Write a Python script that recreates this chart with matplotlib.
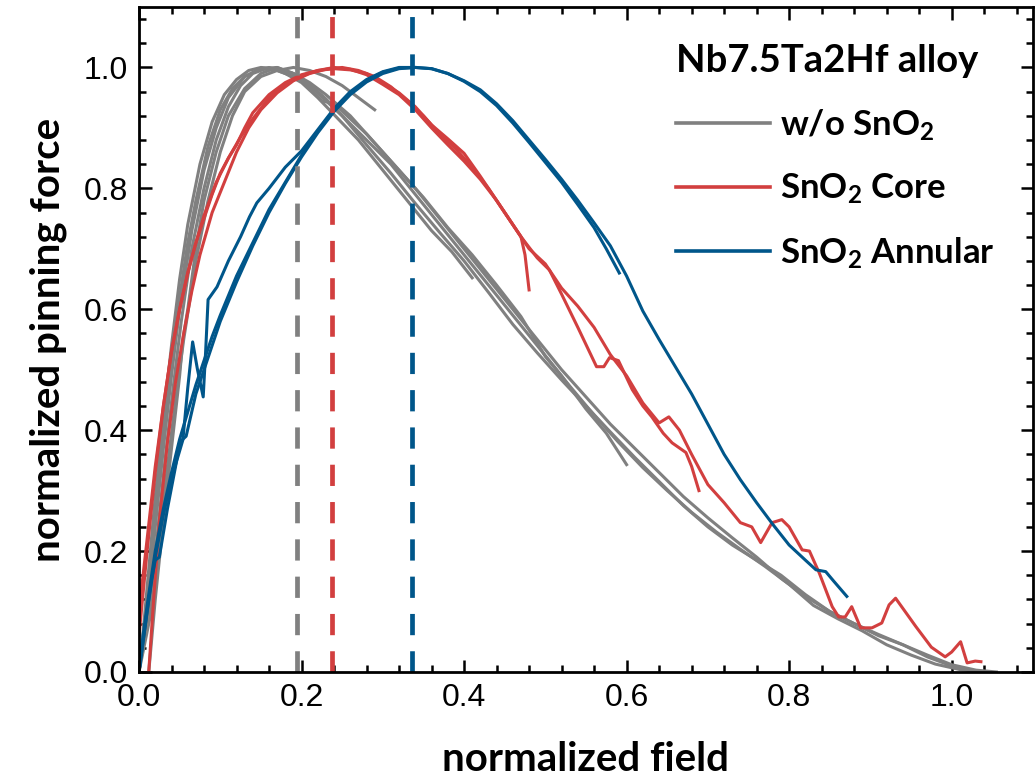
"""
Normalized pinning force vs normalized field for Nb7.5Ta2Hf alloy wires
(w/o SnO2, SnO2 core, SnO2 annular). Saves out.png.
"""

import matplotlib
matplotlib.use("Agg")
import matplotlib.pyplot as plt
from matplotlib.lines import Line2D
from matplotlib.ticker import MultipleLocator

# ── Colours ───────────────────────────────────────────────────────────────────
GRAY = "#808080"
RED = "#D23F3F"
BLUE = "#00568A"

# ── Data ──────────────────────────────────────────────────────────────────────
# w/o SnO2
g1_x = [0.0, 0.006, 0.012, 0.02, 0.03, 0.04, 0.05, 0.06, 0.075, 0.09, 0.105, 0.12, 0.135, 0.15,
        0.17, 0.19, 0.21, 0.23, 0.26, 0.29, 0.32, 0.35, 0.38, 0.41, 0.44, 0.47, 0.50, 0.53, 0.56,
        0.59, 0.62, 0.65, 0.68, 0.71, 0.74, 0.77, 0.80, 0.83, 0.86, 0.89, 0.92, 0.95, 0.98, 1.01, 1.04]
g1_y = [0.0, 0.08, 0.17, 0.29, 0.42, 0.54, 0.65, 0.74, 0.84, 0.91, 0.955, 0.98, 0.995, 1.0,
        0.998, 0.99, 0.975, 0.955, 0.92, 0.875, 0.83, 0.785, 0.735, 0.69, 0.64, 0.588, 0.522, 0.473, 0.425,
        0.38, 0.338, 0.30, 0.264, 0.232, 0.203, 0.175, 0.145, 0.11, 0.088, 0.068, 0.045, 0.028, 0.013, 0.004, 0.0]

g2_x = [0.0, 0.01, 0.02, 0.03, 0.04, 0.05, 0.065, 0.08, 0.095, 0.11, 0.13, 0.15, 0.17, 0.19, 0.21,
        0.23, 0.25, 0.28, 0.31, 0.34, 0.37, 0.40, 0.43, 0.46, 0.49, 0.52, 0.55, 0.58, 0.61, 0.64,
        0.67, 0.70, 0.73, 0.76, 0.79, 0.82, 0.85, 0.88, 0.91, 0.94, 0.97, 1.0, 1.03, 1.055]
g2_y = [0.0, 0.1, 0.24, 0.37, 0.49, 0.6, 0.73, 0.83, 0.9, 0.95, 0.985, 0.998, 1.0, 0.99, 0.972,
        0.948, 0.92, 0.872, 0.825, 0.775, 0.727, 0.68, 0.628, 0.575, 0.528, 0.483, 0.44, 0.397, 0.355, 0.315,
        0.275, 0.24, 0.21, 0.185, 0.16, 0.128, 0.1, 0.08, 0.06, 0.045, 0.028, 0.012, 0.003, 0.0]

g3_x = [0.012, 0.02, 0.03, 0.04, 0.045, 0.05, 0.054, 0.06, 0.07, 0.08, 0.095, 0.11, 0.13, 0.15,
        0.17, 0.19, 0.21, 0.225, 0.24, 0.26, 0.28, 0.31, 0.34, 0.37, 0.40, 0.43, 0.46, 0.49, 0.52,
        0.55, 0.58, 0.61, 0.64, 0.67, 0.70, 0.73, 0.76, 0.79, 0.82, 0.85, 0.88, 0.91, 0.94, 0.97, 1.0, 1.02]
g3_y = [0.0, 0.12, 0.25, 0.37, 0.43, 0.49, 0.55, 0.6, 0.7, 0.78, 0.86, 0.92, 0.965, 0.99,
        1.0, 0.99, 0.965, 0.945, 0.94, 0.915, 0.89, 0.845, 0.8, 0.75, 0.7, 0.65, 0.6, 0.55, 0.5,
        0.455, 0.41, 0.37, 0.33, 0.29, 0.255, 0.222, 0.19, 0.155, 0.125, 0.1, 0.08, 0.062, 0.045, 0.025, 0.01, 0.003]

g4_x = [0.0, 0.01, 0.02, 0.03, 0.04, 0.05, 0.06, 0.07, 0.085, 0.10, 0.115, 0.13, 0.15, 0.17, 0.19,
        0.21, 0.23, 0.25, 0.28, 0.31, 0.34, 0.37, 0.40, 0.43, 0.46, 0.49, 0.52, 0.55, 0.575, 0.60]
g4_y = [0.0, 0.12, 0.26, 0.4, 0.52, 0.62, 0.71, 0.78, 0.87, 0.93, 0.965, 0.985, 0.998, 0.995, 0.985,
        0.97, 0.945, 0.92, 0.88, 0.84, 0.79, 0.74, 0.69, 0.64, 0.59, 0.54, 0.49, 0.435, 0.395, 0.343]

g5_x = [0.0, 0.012, 0.022, 0.032, 0.042, 0.052, 0.065, 0.08, 0.095, 0.11, 0.125, 0.14, 0.16, 0.18,
        0.2, 0.22, 0.245, 0.27, 0.30, 0.33, 0.36, 0.385, 0.41]
g5_y = [0.0, 0.1, 0.22, 0.35, 0.47, 0.58, 0.7, 0.8, 0.88, 0.935, 0.97, 0.99, 1.0, 0.99,
        0.975, 0.95, 0.915, 0.88, 0.83, 0.78, 0.73, 0.695, 0.652]

g6_x = [0.0, 0.015, 0.025, 0.035, 0.045, 0.055, 0.07, 0.085, 0.1, 0.115, 0.13, 0.15, 0.17, 0.19,
        0.21, 0.23, 0.25, 0.27, 0.29]
g6_y = [0.0, 0.1, 0.22, 0.34, 0.45, 0.55, 0.68, 0.78, 0.86, 0.92, 0.96, 0.985, 0.995, 1.0,
        0.995, 0.985, 0.97, 0.95, 0.93]

# SnO2 Core
r1_x = [0.0, 0.005, 0.01, 0.02, 0.03, 0.04, 0.05, 0.06, 0.07, 0.08, 0.09, 0.1, 0.11, 0.12, 0.13,
        0.14, 0.16, 0.18, 0.2, 0.22, 0.24, 0.26, 0.28, 0.30, 0.32, 0.34, 0.36, 0.38, 0.40, 0.42,
        0.44, 0.46, 0.48, 0.50, 0.52, 0.54, 0.56, 0.58, 0.60, 0.62, 0.64, 0.652, 0.665, 0.68, 0.70,
        0.72, 0.74, 0.754, 0.765, 0.779, 0.791, 0.80, 0.816, 0.825, 0.837, 0.853, 0.861, 0.869,
        0.877, 0.888, 0.902, 0.914, 0.923, 0.931, 0.956, 0.975, 0.992, 1.0, 1.011, 1.019, 1.029, 1.036]
r1_y = [0.06, 0.13, 0.2, 0.33, 0.44, 0.53, 0.6, 0.66, 0.71, 0.75, 0.79, 0.825, 0.85, 0.872, 0.9,
        0.925, 0.955, 0.975, 0.988, 0.995, 0.998, 0.996, 0.99, 0.975, 0.958, 0.935, 0.905, 0.882, 0.858, 0.82,
        0.78, 0.74, 0.70, 0.675, 0.635, 0.605, 0.57, 0.525, 0.49, 0.445, 0.412, 0.422, 0.40, 0.36, 0.31,
        0.28, 0.247, 0.24, 0.214, 0.247, 0.252, 0.24, 0.202, 0.2, 0.164, 0.108, 0.091, 0.091,
        0.108, 0.073, 0.073, 0.081, 0.111, 0.122, 0.075, 0.041, 0.025, 0.033, 0.05, 0.015, 0.018, 0.017]

r2_x = [0.012, 0.018, 0.025, 0.035, 0.045, 0.055, 0.065, 0.075, 0.09, 0.105, 0.12, 0.135, 0.15,
        0.17, 0.19, 0.21, 0.23, 0.25, 0.27, 0.29, 0.31, 0.33, 0.35, 0.37, 0.39, 0.41, 0.43, 0.45,
        0.47, 0.49, 0.505, 0.52, 0.54, 0.563, 0.572, 0.579, 0.59, 0.607, 0.62, 0.631, 0.645, 0.656,
        0.673, 0.68, 0.689]
r2_y = [0.0, 0.12, 0.25, 0.38, 0.48, 0.56, 0.63, 0.69, 0.76, 0.81, 0.86, 0.9, 0.93,
        0.958, 0.978, 0.99, 0.997, 1.0, 0.995, 0.985, 0.968, 0.945, 0.92, 0.89, 0.865, 0.835, 0.8, 0.76,
        0.72, 0.685, 0.665, 0.625, 0.57, 0.505, 0.505, 0.52, 0.515, 0.467, 0.44, 0.422, 0.395, 0.379,
        0.363, 0.34, 0.30]

r3_x = [0.0, 0.01, 0.02, 0.03, 0.04, 0.05, 0.06, 0.07, 0.08, 0.095, 0.11, 0.125, 0.14, 0.16, 0.18,
        0.2, 0.22, 0.24, 0.26, 0.28, 0.30, 0.32, 0.34, 0.36, 0.38, 0.40, 0.42, 0.44, 0.46, 0.47,
        0.475, 0.48]
r3_y = [0.1, 0.22, 0.34, 0.44, 0.53, 0.6, 0.66, 0.71, 0.755, 0.81, 0.85, 0.885, 0.915, 0.95, 0.972,
        0.986, 0.995, 1.0, 0.997, 0.988, 0.972, 0.955, 0.93, 0.9, 0.872, 0.845, 0.815, 0.78, 0.74, 0.72,
        0.69, 0.632]

# SnO2 Annular
b1_x = [0.0, 0.005, 0.01, 0.02, 0.03, 0.04, 0.05, 0.06, 0.07, 0.08, 0.09, 0.10, 0.12, 0.14, 0.16,
        0.18, 0.20, 0.22, 0.24, 0.26, 0.28, 0.30, 0.32, 0.34, 0.36, 0.38, 0.40, 0.42, 0.44, 0.46,
        0.48, 0.50, 0.52, 0.54, 0.56, 0.58, 0.60, 0.62, 0.64, 0.66, 0.68, 0.70, 0.72, 0.74, 0.76,
        0.78, 0.80, 0.82, 0.833, 0.845, 0.855, 0.871]
b1_y = [0.0, 0.06, 0.11, 0.2, 0.27, 0.33, 0.385, 0.43, 0.475, 0.515, 0.555, 0.59, 0.655, 0.71, 0.765,
        0.81, 0.855, 0.895, 0.93, 0.958, 0.978, 0.992, 0.999, 1.0, 0.998, 0.99, 0.978, 0.963, 0.94, 0.912,
        0.88, 0.848, 0.815, 0.78, 0.743, 0.705, 0.655, 0.597, 0.55, 0.505, 0.46, 0.41, 0.36, 0.318, 0.28,
        0.244, 0.21, 0.185, 0.169, 0.166, 0.15, 0.125]

b2_x = [0.0, 0.008, 0.015, 0.02, 0.025, 0.035, 0.045, 0.05, 0.058, 0.07, 0.08, 0.09, 0.10, 0.12,
        0.14, 0.16, 0.18, 0.20, 0.22, 0.24, 0.26, 0.28, 0.30, 0.32, 0.34, 0.36, 0.38, 0.40, 0.42,
        0.44, 0.46, 0.48, 0.50, 0.52, 0.54, 0.56, 0.575, 0.591]
b2_y = [0.0, 0.08, 0.15, 0.185, 0.19, 0.27, 0.34, 0.38, 0.39, 0.46, 0.5, 0.54, 0.58, 0.645,
        0.705, 0.76, 0.808, 0.852, 0.892, 0.927, 0.955, 0.976, 0.99, 0.998, 1.0, 0.998, 0.99, 0.977, 0.96,
        0.937, 0.908, 0.876, 0.843, 0.81, 0.773, 0.735, 0.7, 0.66]

b3_x = [0.0, 0.01, 0.02, 0.03, 0.04, 0.054, 0.06, 0.066, 0.072, 0.079, 0.082, 0.085, 0.096, 0.11,
        0.125, 0.136, 0.145, 0.16, 0.18, 0.2, 0.22, 0.24, 0.26, 0.28, 0.30, 0.32, 0.34]
b3_y = [0.0, 0.1, 0.19, 0.26, 0.32, 0.384, 0.47, 0.546, 0.5, 0.455, 0.53, 0.616, 0.637, 0.68,
        0.72, 0.753, 0.776, 0.8, 0.835, 0.862, 0.897, 0.932, 0.96, 0.98, 0.993, 1.0, 1.0]

# Peak positions (dashed markers)
peak_gray = 0.194
peak_red = 0.238
peak_blue = 0.336

LEGEND_TITLE = "Nb7.5Ta2Hf alloy"
LEGEND_LABELS = ["w/o SnO$_2$", "SnO$_2$ Core", "SnO$_2$ Annular"]

TICK_FONT = "Liberation Sans"
LABEL_FONT = "Lato"

plt.rcParams["mathtext.default"] = "regular"


def main():
    fig = plt.figure(figsize=(10.35, 7.79), dpi=100)
    ax = fig.add_axes([0.1343, 0.1374, 0.8637, 0.8536])

    lw = 2.2
    gray_curves = [(g1_x, g1_y), (g2_x, g2_y), (g3_x, g3_y), (g4_x, g4_y), (g5_x, g5_y), (g6_x, g6_y)]
    red_curves = [(r1_x, r1_y), (r2_x, r2_y), (r3_x, r3_y)]
    blue_curves = [(b1_x, b1_y), (b2_x, b2_y), (b3_x, b3_y)]

    for xs, ys in gray_curves:
        ax.plot(xs, ys, color=GRAY, lw=lw, solid_joinstyle="round")
    for xs, ys in red_curves:
        ax.plot(xs, ys, color=RED, lw=lw, solid_joinstyle="round")
    for xs, ys in blue_curves:
        ax.plot(xs, ys, color=BLUE, lw=lw, solid_joinstyle="round")

    # dashed peak markers
    for xv, c in [(peak_gray, GRAY), (peak_red, RED), (peak_blue, BLUE)]:
        ax.axvline(xv, color=c, lw=3.4, dashes=(4.5, 3.4))

    ax.set_xlim(0, 1.1)
    ax.set_ylim(0, 1.1)
    ax.xaxis.set_major_locator(MultipleLocator(0.2))
    ax.xaxis.set_minor_locator(MultipleLocator(0.04))
    ax.yaxis.set_major_locator(MultipleLocator(0.2))
    ax.yaxis.set_minor_locator(MultipleLocator(0.04))
    ax.tick_params(which="both", direction="in", top=True, right=True, width=1.8)
    ax.tick_params(which="major", length=9, pad=8)
    ax.tick_params(which="minor", length=5)
    for lab in ax.get_xticklabels() + ax.get_yticklabels():
        lab.set_fontfamily(TICK_FONT)
        lab.set_fontsize(23)
    for spine in ax.spines.values():
        spine.set_linewidth(2.0)

    ax.set_xlabel("normalized field", fontfamily=LABEL_FONT, fontweight="bold",
                  fontsize=29, labelpad=20)
    ax.set_ylabel("normalized pinning force", fontfamily=LABEL_FONT, fontweight="bold",
                  fontsize=29, labelpad=12)

    handles = [Line2D([], [], color=c, lw=2.6) for c in (GRAY, RED, BLUE)]
    ax.legend(handles, LEGEND_LABELS, title=LEGEND_TITLE, loc="upper left",
              bbox_to_anchor=(0.585, 0.965), borderaxespad=0, frameon=False,
              prop={"family": LABEL_FONT, "weight": "bold", "size": 25},
              title_fontproperties={"family": LABEL_FONT, "weight": "bold", "size": 27.5},
              handlelength=2.7, handletextpad=0.3, labelspacing=0.84,
              alignment="left")

    fig.savefig("out.png", dpi=100)
    plt.close(fig)


if __name__ == "__main__":
    main()
